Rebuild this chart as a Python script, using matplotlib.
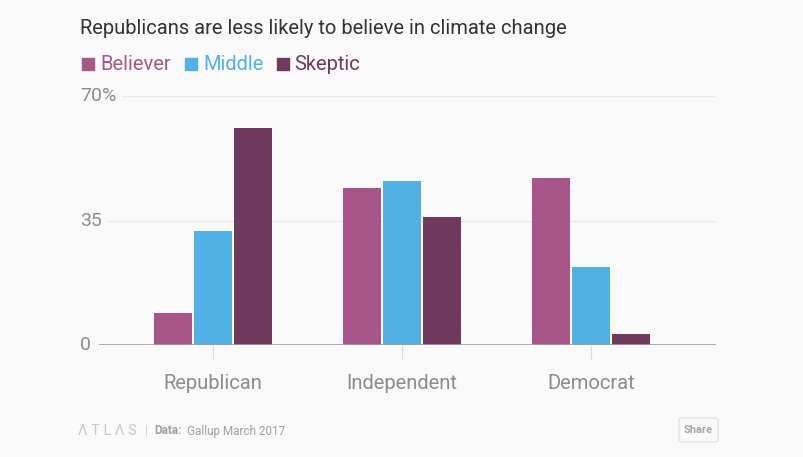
"""Grouped bars: climate change belief by party (Gallup March 2017)."""
import matplotlib
matplotlib.use("Agg")
import matplotlib.pyplot as plt
from matplotlib.patches import FancyBboxPatch
import matplotlib.transforms as mtransforms
import numpy as np

plt.rcParams['font.family'] = ['Roboto', 'DejaVu Sans']

parties = ["Republican", "Independent", "Democrat"]
series = ["Believer", "Middle", "Skeptic"]
believer = [9, 44, 47]
middle = [32, 46, 22]
skeptic = [61, 36, 3]
colors = ["#a8568a", "#52b1e4", "#6f3a5e"]
yticks = [0, 35, 70]
ytick_labels = ["0", "35", "70%"]

BG = "#fafafa"
W, H = 804, 457
fig = plt.figure(figsize=(W / 100, H / 100), dpi=100, facecolor=BG)

# axes box in pixels: x 99..716, y 96..345
ax = fig.add_axes([99 / W, 1 - 345 / H, (716 - 99) / W, (345 - 96) / H])
ax.set_facecolor(BG)

x = np.arange(len(parties))
step = 0.2116
bw = 0.201
for i, (vals, c) in enumerate(zip([believer, middle, skeptic], colors)):
    ax.bar(x + (i - 1) * step, vals, width=bw, color=c, zorder=3)

ax.set_xlim(-0.603, 2.661)
ax.set_ylim(0, 70)

for s in ax.spines.values():
    s.set_visible(False)
ax.axhline(0, color="#a0a0a0", lw=1.2, zorder=4)
for v in yticks[1:]:
    ax.axhline(v, color="#e9e9e9", lw=0.9, zorder=1)

ax.set_yticks([])
ax.set_xticks(x)
ax.set_xticklabels(parties, fontsize=14.5, color="#8c8c8c")
ax.tick_params(axis="x", length=11, width=0.9, color="#dcdcdc", pad=10)

# y labels, left aligned at x=80 px
trans = mtransforms.blended_transform_factory(fig.transFigure, ax.transData)
for v, lab in zip(yticks, ytick_labels):
    ax.text(80 / W, v, lab, transform=trans, ha="left", va="center",
            fontsize=14, color="#8c8c8c", zorder=6,
            bbox=dict(facecolor=BG, edgecolor="none", pad=4))

# title
fig.text(80 / W, 1 - 29 / H, "Republicans are less likely to believe in climate change",
         ha="left", va="center", fontsize=14.5, color="#333333")

# legend: square x, text x (pixels)
for name, c, sx, tx in zip(series, colors, [82, 185, 277], [100, 203, 294]):
    fig.patches.append(plt.Rectangle((sx / W, 1 - 70 / H), 12 / W, 12 / H,
                                     transform=fig.transFigure, color=c))
    fig.text(tx / W, 1 - 64 / H, name, ha="left", va="center",
             fontsize=14.5, color=c)

# footer
fig.text(78 / W, 1 - 431 / H, "Λ T L Λ S", ha="left", va="center",
         fontsize=10.5, color="#c8c8c8")
fig.text(145 / W, 1 - 431 / H, "|", ha="left", va="center",
         fontsize=9, color="#d0d0d0")
fig.text(154 / W, 1 - 431 / H, "Data:", ha="left", va="center",
         fontsize=8.5, color="#a0a0a0", fontweight="bold")
fig.text(187 / W, 1 - 431 / H, "Gallup March 2017", ha="left", va="center",
         fontsize=8.5, color="#a0a0a0")

share = FancyBboxPatch((679 / W, 1 - 442 / H), 39 / W, 24 / H,
                       boxstyle="round,pad=0,rounding_size=0.004",
                       transform=fig.transFigure, facecolor=BG,
                       edgecolor="#e0e0e0", lw=0.9)
fig.patches.append(share)
fig.text(698.5 / W, 1 - 430 / H, "Share", ha="center", va="center",
         fontsize=8, color="#a8a8a8", fontweight="bold")

fig.savefig("out.png", dpi=100, facecolor=BG)
